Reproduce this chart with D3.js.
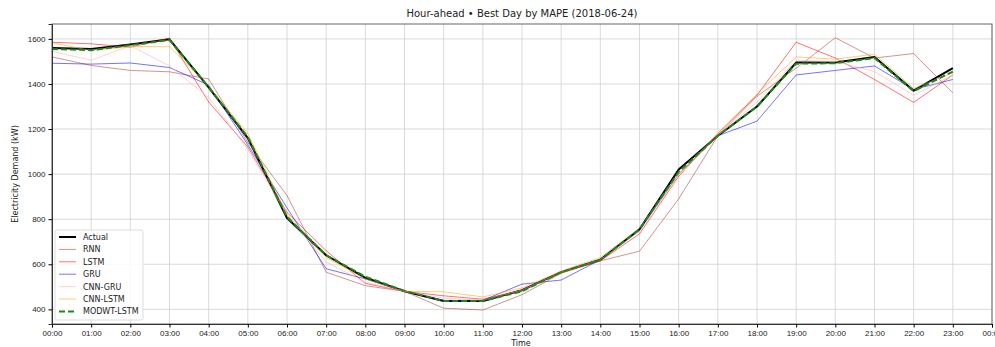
<!DOCTYPE html>
<html>
<head>
<meta charset="utf-8">
<script src="https://cdn.jsdelivr.net/npm/d3@7"></script>
<style>
  body { margin: 0; background: #fff; }
  svg { font-family: "DejaVu Sans", sans-serif; }
  .tick text { font-size: 8px; fill: #222; }
  .grid line { stroke: #d0d0d0; stroke-width: 0.8; }
</style>
</head>
<body>
<div id="chart"></div>
<script>
// hours of the day
let hours = d3.range(0, 24);
let tickHours = d3.range(0, 25);
let tickLabels = tickHours.map(h => String(h % 24).padStart(2, "0") + ":00");
let yTicks = [400, 600, 800, 1000, 1200, 1400, 1600];

let actual = [1560, 1555, 1575, 1598, 1385, 1160, 805, 640, 540, 480, 437, 437, 485, 565, 620, 755, 1020, 1170, 1300, 1495, 1495, 1520, 1370, 1470];
let rnn = [1520, 1482, 1460, 1454, 1422, 1140, 905, 565, 505, 480, 405, 397, 465, 560, 615, 658, 890, 1170, 1345, 1470, 1605, 1515, 1535, 1360];
let lstm = [1585, 1578, 1563, 1603, 1320, 1120, 830, 660, 515, 480, 460, 445, 485, 565, 615, 735, 990, 1180, 1350, 1585, 1515, 1420, 1318, 1440];
let gru = [1492, 1488, 1493, 1473, 1395, 1130, 850, 580, 535, 480, 440, 440, 512, 530, 620, 750, 1000, 1170, 1235, 1440, 1460, 1480, 1375, 1420];
let cnnGru = [1545, 1505, 1570, 1480, 1340, 1110, 820, 610, 520, 480, 450, 440, 485, 565, 620, 745, 1000, 1170, 1320, 1505, 1500, 1455, 1350, 1440];
let cnnLstm = [1583, 1548, 1566, 1565, 1390, 1180, 820, 630, 535, 480, 478, 455, 495, 570, 630, 760, 1000, 1180, 1355, 1520, 1510, 1532, 1380, 1450];
let modwt = [1555, 1550, 1572, 1595, 1385, 1165, 810, 640, 545, 482, 437, 437, 480, 565, 620, 755, 1010, 1170, 1300, 1490, 1492, 1515, 1368, 1455];

let series = [
  { name: "Actual", values: actual, color: "#000", width: 2, opacity: 1, dash: null },
  { name: "RNN", values: rnn, color: "#b03a3a", width: 1, opacity: 0.55, dash: null },
  { name: "LSTM", values: lstm, color: "#ff0000", width: 1, opacity: 0.55, dash: null },
  { name: "GRU", values: gru, color: "#0000ff", width: 1, opacity: 0.55, dash: null },
  { name: "CNN-GRU", values: cnnGru, color: "#ffb0bd", width: 1, opacity: 0.6, dash: null },
  { name: "CNN-LSTM", values: cnnLstm, color: "#ffa500", width: 1, opacity: 0.55, dash: null },
  { name: "MODWT-LSTM", values: modwt, color: "#1a8a1a", width: 2, opacity: 1, dash: "6,3" }
];

let svgW = 995;
let svgH = 347;
let margin = { left: 52, right: 3, top: 24, bottom: 23 };
let chartW = svgW - margin.left - margin.right;
let chartH = svgH - margin.top - margin.bottom;

let x = d3.scaleLinear().domain([0, 24]).range([0, chartW]);
let y = d3.scaleLinear().domain([335, 1666]).range([chartH, 0]);

let svg = d3.select("#chart")
  .append("svg")
  .attr("width", svgW)
  .attr("height", svgH);

let group = svg.append("g")
  .attr("transform", `translate(${margin.left},${margin.top})`);

// grid
group.append("g")
  .attr("class", "grid")
  .selectAll("line")
  .data(tickHours)
  .enter()
  .append("line")
  .attr("x1", d => x(d)).attr("x2", d => x(d))
  .attr("y1", 0).attr("y2", chartH);

group.append("g")
  .attr("class", "grid")
  .selectAll("line")
  .data(yTicks)
  .enter()
  .append("line")
  .attr("x1", 0).attr("x2", chartW)
  .attr("y1", d => y(d)).attr("y2", d => y(d));

let line = d3.line()
  .x((d, i) => x(hours[i]))
  .y(d => y(d));

group.selectAll("path.series")
  .data(series)
  .enter()
  .append("path")
  .attr("class", "series")
  .attr("d", d => line(d.values))
  .attr("fill", "none")
  .attr("stroke", d => d.color)
  .attr("stroke-width", d => d.width)
  .attr("stroke-opacity", d => d.opacity)
  .attr("stroke-dasharray", d => d.dash)
  .attr("stroke-linejoin", "round");

// frame
group.append("rect")
  .attr("width", chartW)
  .attr("height", chartH)
  .attr("fill", "none")
  .attr("stroke", "#666")
  .attr("stroke-width", 1);

let xAxis = d3.axisBottom(x)
  .tickValues(tickHours)
  .tickFormat((d, i) => tickLabels[i])
  .tickSize(3.5)
  .tickPadding(3);

let yAxis = d3.axisLeft(y)
  .tickValues(yTicks)
  .tickFormat(d3.format("d"))
  .tickSize(3.5)
  .tickPadding(3);

group.append("g")
  .attr("class", "x axis")
  .attr("transform", `translate(0, ${chartH})`)
  .call(xAxis)
  .call(g => g.select(".domain").attr("stroke", "#333"));

group.append("g")
  .attr("class", "y axis")
  .call(yAxis)
  .call(g => g.select(".domain").attr("stroke", "#333"));

svg.append("text")
  .attr("x", margin.left + chartW / 2)
  .attr("y", 17)
  .attr("text-anchor", "middle")
  .attr("font-size", 10)
  .attr("fill", "#222")
  .text("Hour-ahead \u2022 Best Day by MAPE (2018-06-24)");

svg.append("text")
  .attr("x", margin.left + chartW / 2 - 1)
  .attr("y", svgH - 1)
  .attr("text-anchor", "middle")
  .attr("font-size", 8)
  .attr("fill", "#222")
  .text("Time");

svg.append("text")
  .attr("transform", `translate(18, ${margin.top + chartH / 2}) rotate(-90)`)
  .attr("text-anchor", "middle")
  .attr("font-size", 8)
  .attr("fill", "#222")
  .text("Electricity Demand (kW)");

// legend
let legend = svg.append("g")
  .attr("transform", "translate(55, 230)");

legend.append("rect")
  .attr("width", 88)
  .attr("height", 90)
  .attr("rx", 2)
  .attr("fill", "#fff")
  .attr("fill-opacity", 0.85)
  .attr("stroke", "#ddd");

let items = legend.selectAll("g.item")
  .data(series)
  .enter()
  .append("g")
  .attr("class", "item")
  .attr("transform", (d, i) => `translate(4, ${7 + i * 12.4})`);

items.append("line")
  .attr("x1", 0).attr("x2", 17)
  .attr("stroke", d => d.color)
  .attr("stroke-width", d => d.width)
  .attr("stroke-opacity", d => d.opacity)
  .attr("stroke-dasharray", d => d.dash);

items.append("text")
  .attr("x", 24)
  .attr("y", 3)
  .attr("font-size", 8)
  .attr("fill", "#222")
  .text(d => d.name);
</script>
</body>
</html>
